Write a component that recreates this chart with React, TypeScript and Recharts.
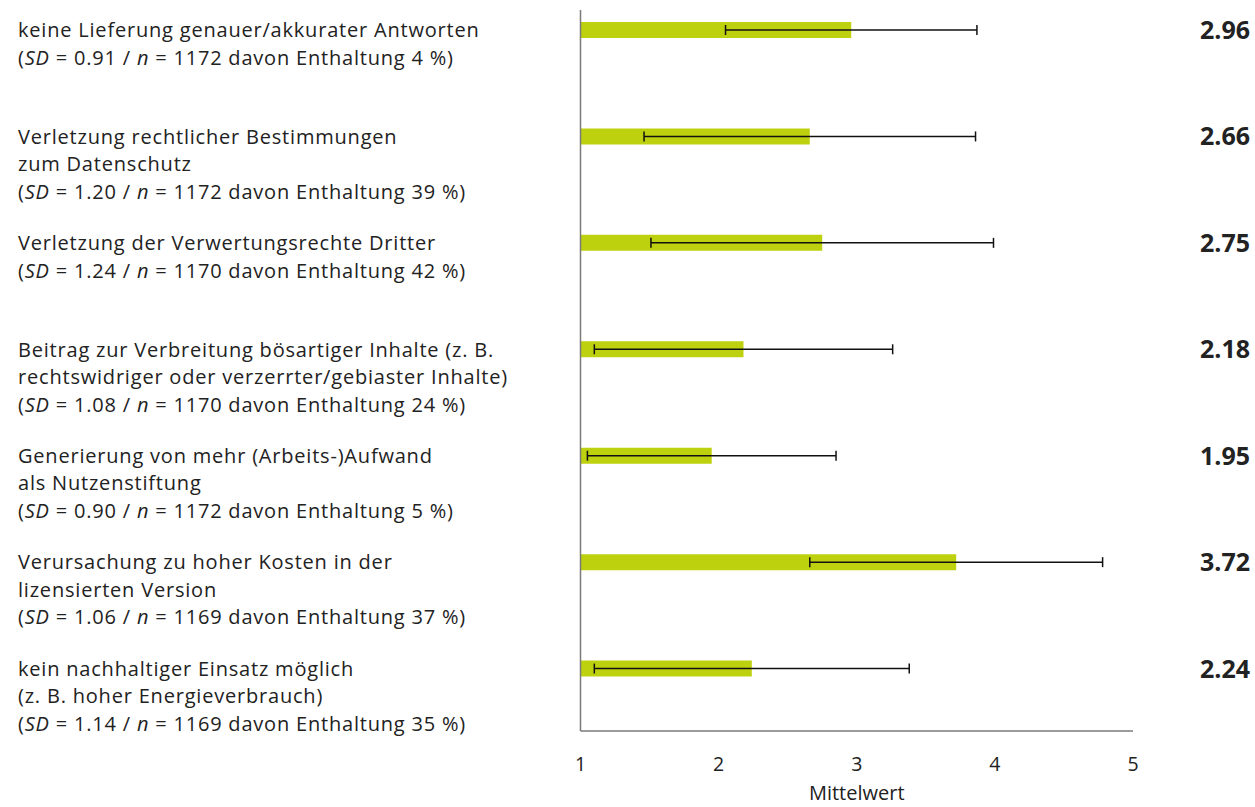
import { BarChart, Bar, XAxis, YAxis, ErrorBar, LabelList } from 'recharts';

const topics = [
  ['keine Lieferung genauer/akkurater Antworten'],
  ['Verletzung rechtlicher Bestimmungen', 'zum Datenschutz'],
  ['Verletzung der Verwertungsrechte Dritter'],
  ['Beitrag zur Verbreitung bösartiger Inhalte (z. B.', 'rechtswidriger oder verzerrter/gebiaster Inhalte)'],
  ['Generierung von mehr (Arbeits-)Aufwand', 'als Nutzenstiftung'],
  ['Verursachung zu hoher Kosten in der', 'lizensierten Version'],
  ['kein nachhaltiger Einsatz möglich', '(z. B. hoher Energieverbrauch)'],
];
const means = [2.96, 2.66, 2.75, 2.18, 1.95, 3.72, 2.24];
const sds = [0.91, 1.2, 1.24, 1.08, 0.9, 1.06, 1.14];
const ns = [1172, 1172, 1170, 1170, 1172, 1169, 1169];
const abstentions = [4, 39, 42, 24, 5, 37, 35];
const xTicks = [1, 2, 3, 4, 5];

const data = topics.map((t, i) => ({
  name: t.join(' '),
  mean: means[i],
  sd: sds[i],
}));

const FONT = '"Open Sans", sans-serif';
const TEXT = '#222';

const LeftLabel = (props: any) => {
  const { y, index } = props;
  const lines = topics[index];
  return (
    <text x={18} y={y + 7} fill={TEXT} fontSize={20} letterSpacing={0.8} fontFamily={FONT}>
      {lines.map((l, k) => (
        <tspan key={k} x={18} dy={k === 0 ? 0 : 27.5}>{l}</tspan>
      ))}
      <tspan x={18} dy={27.5}>(</tspan>
      <tspan fontStyle="italic">SD</tspan>
      <tspan>{` = ${sds[index].toFixed(2)} / `}</tspan>
      <tspan fontStyle="italic">n</tspan>
      <tspan>{` = ${ns[index]} davon Enthaltung ${abstentions[index]} %)`}</tspan>
    </text>
  );
};

const ValueLabel = (props: any) => {
  const vb = props.viewBox ?? props;
  const cy = vb.y + vb.height / 2;
  return (
    <text x={1250} y={cy} dy="0.36em" textAnchor="end" fill={TEXT} fontSize={25} fontWeight={700} fontFamily={FONT}>
      {Number(props.value).toFixed(2)}
    </text>
  );
};

export default function App() {
  return (
    <div style={{ position: 'absolute', left: 0, top: 0, background: '#fff' }}>
      <BarChart
        width={1255}
        height={807}
        data={data}
        layout="vertical"
        margin={{ top: 10, right: 122, bottom: 0, left: 0 }}
      >
        <XAxis
          type="number"
          domain={[1, 5]}
          ticks={xTicks}
          tickLine={false}
          tickMargin={20}
          height={76}
          axisLine={{ stroke: '#7a7a7a', strokeWidth: 1.5 }}
          tick={{ fill: TEXT, fontSize: 19.5, fontFamily: FONT }}
          label={{ value: 'Mittelwert', position: 'insideBottom', offset: 7, fill: TEXT, fontSize: 20, fontFamily: FONT }}
        />
        <YAxis
          type="category"
          dataKey="name"
          width={580.5}
          padding={{ top: -33, bottom: 9 }}
          tickLine={false}
          axisLine={{ stroke: '#7a7a7a', strokeWidth: 1.5 }}
          tick={<LeftLabel />}
          interval={0}
        />
        <Bar dataKey="mean" fill="#bed10e" barSize={16} isAnimationActive={false}>
          <ErrorBar dataKey="sd" direction="x" width={5} stroke="#111" strokeWidth={1.5} />
          <LabelList dataKey="mean" content={<ValueLabel />} />
        </Bar>
      </BarChart>
    </div>
  );
}
